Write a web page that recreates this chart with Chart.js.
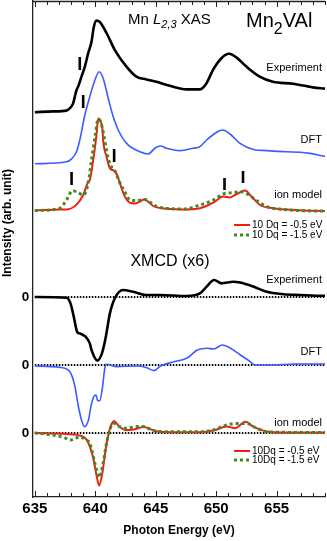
<!DOCTYPE html>
<html><head><meta charset="utf-8">
<script src="https://cdn.jsdelivr.net/npm/chart.js@4.4.1/dist/chart.umd.min.js"></script>
<style>html,body{margin:0;padding:0;background:#fff;}canvas{display:block;}</style>
</head><body>
<canvas id="c" width="327" height="541"></canvas>
<script>
// ---- data (photon energy in eV, intensity in arb. units incl. vertical offsets) ----
const xTicks = [635, 640, 645, 650, 655];
const zeroLevels = [50, 33, 16];   // XMCD baselines: Experiment, DFT, ion model

const xasExpE = [635,636.5,637.6,637.9,638.17,638.31,638.45,638.58,638.86,639.14,639.41,639.69,639.88,640.1,640.37,640.93,641.61,642.58,643.4,644.23,645.06,646.16,647.54,648.64,649.19,649.74,650.43,651.06,651.67,652.5,653.6,654.69,656.35,658,659];
const xasExpI = [96.2,96.4,96.6,97.2,98.4,100.1,101.75,102.6,105.1,107.6,110.9,113.8,117.5,119.1,118.8,116,111.8,107.6,105.1,104.4,103.8,102.8,101.9,101.9,103.4,106.8,109.7,110.8,109.9,107.6,105.1,103.8,103.3,102.4,102.1];

const xasDftE = [635,637.62,638.06,638.45,638.72,639.14,639.55,639.97,640.32,640.65,641.07,641.48,641.9,642.59,643.69,644.38,644.93,645.4,645.9,647.0,648.1,648.66,649.21,650.04,650.54,651.14,651.97,653.07,654.18,655.84,656.94,657.77,658.87,659];
const xasDftI = [83.3,83.8,84.6,86.3,89.25,95.5,100.1,104.25,106.3,104.7,99.7,95.1,91.75,88.4,86.3,85.75,87.2,87.75,87.2,86.6,87.2,87.6,89.25,91.2,91.75,90.75,88.4,86.9,86.6,86.3,86.2,85.9,85.25,85.2];

const xasIonAE = [635,637.07,637.62,638.45,639.0,639.41,639.55,639.83,640.1,640.24,640.37,640.6,640.65,640.93,641.2,641.54,641.81,642.04,642.45,642.86,643.28,643.83,644.02,644.35,644.79,645.35,647.28,648.66,649.76,650.59,651.14,651.69,652.38,652.93,653.62,654.73,656.38,658.87,659];
const xasIonAI = [71.6,71.9,71.9,73.1,75.5,78.75,79.25,84.25,90.5,94.6,94.25,91.75,89.25,85.1,82.2,81.6,80.5,78.4,75.1,73.6,73.4,74.1,74.4,73.9,72.75,72.25,71.9,72.2,73.6,75.1,74.9,75.75,76.6,75.1,73.0,72.2,71.75,71.5,71.5];

const xasIonBE = [635,637.07,637.62,638.13,638.59,639.0,639.41,639.69,640.0,640.24,640.45,640.7,641.0,641.3,641.6,642.0,642.45,642.86,643.3,643.8,644.1,644.5,645.0,646,647.3,648.66,649.76,650.59,651.42,651.97,652.38,653.07,654.18,655.5,658.9,659];
const xasIonBI = [71.6,72.2,74.25,76.6,76.1,75.5,78.4,84.25,90.5,94.5,93.75,90.5,85.5,82.75,81.75,78.75,76.25,74.25,74.1,74.25,74.4,73.75,72.75,72.1,72.0,73.0,74.25,75.75,76.1,76.3,76.1,74.7,72.6,71.9,71.5,71.5];

const mcdExpE = [635,637.62,637.95,638.22,638.5,638.7,638.99,639.2,639.55,639.69,640.18,640.55,640.82,640.97,641.21,641.62,642.3,643.13,644.23,645.35,647.55,648.66,649.21,649.82,650.45,651.42,651.97,653.07,654.18,655.56,656.94,658.87,659];
const mcdExpI = [50,49.8,48.4,45.1,41.3,40.9,40.5,40.1,38.4,36.75,34.1,35.9,39.25,41.75,45.9,49.7,51.75,51.3,50.5,50.5,50.25,50.9,52.6,54.25,53.4,53.8,53.6,52.6,51.3,50.7,50.5,50.3,50.3];

const mcdDftE = [635,637.07,637.9,638.31,638.58,638.86,639.11,639.44,639.64,639.86,640.06,640.2,640.37,640.6,640.79,640.93,641.76,643.46,644.2,644.85,645.4,646.5,647.6,648.43,649.26,649.8,650.5,651.19,652.0,652.7,653.2,654.58,656.5,658.9,659];
const mcdDftI = [32.75,32.4,31.3,27.75,23,19.25,17.6,19.25,22.6,25,25.5,24.1,24.1,27.5,32.25,33.2,32.6,32.75,32.4,31.6,32.75,33.8,34.75,36.75,37.2,37,38,37.2,35.5,34.1,33,33,33.25,33.25,33.25];

const mcdIonAE = [635,637.62,638.86,639.27,639.55,639.83,640.1,640.32,640.6,640.85,641.1,641.35,641.55,641.9,642.5,643.2,644.0,644.6,645.3,646.6,648.66,649.76,650.87,651.55,652.43,653.07,653.9,654.73,658.87,659];
const mcdIonAI = [16,15.75,15.25,14.4,12.6,9.75,5.5,2.9,6.25,11.75,15.75,18.25,19,17.9,16.75,16.9,17.5,16.9,16.3,16.2,16.2,16.6,17.6,17.2,18.8,17.6,16.6,16.2,16.1,16.1];

const mcdIonBE = [635,636.24,637.4,637.95,638.3,638.72,639.27,639.55,639.97,640.32,640.65,640.93,641.2,641.5,642.0,642.6,643.4,643.95,644.8,645.9,648.66,649.76,650.87,651.7,652.5,653.35,654.18,658.87,659];
const mcdIonBI = [16,15.6,14.9,14.25,14.6,15,14.25,13.4,8.4,4.9,8.4,13.4,16.75,18.4,17.6,17.2,17.6,17.6,16.6,16.3,16.3,16.75,18,18.4,18.4,17.2,16.3,16.1,16.1];

// feature marker bars: energy, lower, upper
const markE  = [638.72, 639.0, 641.56, 638.04, 650.69, 652.22];
const markLo = [106.75, 97.25, 83.75, 78.0, 76.75, 78.5];
const markHi = [110.0, 100.5, 87.0, 81.25, 79.75, 81.5];

// ---- build ----
const pts = (E, I) => E.map((e, i) => ({x: e, y: I[i]}));
const markPts = [];
markE.forEach((e, i) => { markPts.push({x: e, y: markLo[i]}, {x: e, y: markHi[i]}, {x: e, y: null}); });

const RED = '#f41c12', GREEN = '#3f8a22', BLUE = '#3c5cff', BLACK = '#000';
const curve = (data, color, w, dash) => ({
  data, borderColor: color, borderWidth: w, borderDash: dash || [],
  pointRadius: 0, fill: false, cubicInterpolationMode: 'monotone', borderCapStyle: 'butt'
});

const datasets = [
  curve(pts(xasIonBE, xasIonBI), GREEN, 3, [3, 3]),
  curve(pts(mcdIonBE, mcdIonBI), GREEN, 3, [3, 3]),
  curve(pts(xasIonAE, xasIonAI), RED, 2),
  curve(pts(mcdIonAE, mcdIonAI), RED, 2),
  curve(pts(xasDftE, xasDftI), BLUE, 1.6),
  curve(pts(mcdDftE, mcdDftI), BLUE, 1.6),
  curve(pts(xasExpE, xasExpI), BLACK, 2.6),
  curve(pts(mcdExpE, mcdExpI), BLACK, 2.6),
  {data: markPts, borderColor: BLACK, borderWidth: 2.6, pointRadius: 0, spanGaps: false, tension: 0},
  ...zeroLevels.map(z => ({data: [{x: 635, y: z}, {x: 659, y: z}], borderColor: BLACK, borderWidth: 2,
      borderDash: [1.5, 1.5], pointRadius: 0, tension: 0}))
];

const FONT = '"Liberation Sans", Arial, Helvetica, sans-serif';

const deco = {
  id: 'deco',
  afterDatasetsDraw(chart) {
    const ctx = chart.ctx, a = chart.chartArea, xs = chart.scales.x, ys = chart.scales.y;
    ctx.save();
    // frame top line
    ctx.strokeStyle = '#222'; ctx.lineWidth = 1.3;
    ctx.beginPath(); ctx.moveTo(a.left, a.top + 0.5); ctx.lineTo(a.right, a.top + 0.5); ctx.stroke();
    // inward ticks top & bottom
    ctx.lineWidth = 1;
    for (let e = 635; e <= 659; e++) {
      const px = Math.round(xs.getPixelForValue(e)) + 0.5;
      const L = (e % 5 === 0) ? 6 : 4;
      ctx.beginPath();
      ctx.moveTo(px, a.bottom); ctx.lineTo(px, a.bottom - L);
      ctx.moveTo(px, a.top); ctx.lineTo(px, a.top + L);
      ctx.stroke();
    }
    ctx.fillStyle = '#000';
    // zero labels
    ctx.font = 'bold 13.5px ' + FONT; ctx.textAlign = 'center'; ctx.textBaseline = 'middle';
    zeroLevels.forEach(z => ctx.fillText('0', 25.5, ys.getPixelForValue(z)));
    // y title
    ctx.save(); ctx.translate(8, 223); ctx.rotate(-Math.PI / 2);
    ctx.font = 'bold 12px ' + FONT; ctx.fillText('Intensity (arb. unit)', 0, 0); ctx.restore();
    // header
    ctx.textAlign = 'left'; ctx.textBaseline = 'alphabetic';
    let x = 128;
    ctx.font = '15px ' + FONT; ctx.fillText('Mn ', x, 24); x += ctx.measureText('Mn ').width;
    ctx.font = 'italic 15px ' + FONT; ctx.fillText('L', x, 24); x += ctx.measureText('L').width;
    ctx.font = 'italic 11px ' + FONT; ctx.fillText('2,3', x, 28); x += ctx.measureText('2,3').width;
    ctx.font = '15px ' + FONT; ctx.fillText(' XAS', x, 24);
    x = 246;
    ctx.font = '20px ' + FONT; ctx.fillText('Mn', x, 27); x += ctx.measureText('Mn').width;
    ctx.font = '16px ' + FONT; ctx.fillText('2', x, 34); x += ctx.measureText('2').width;
    ctx.font = '20px ' + FONT; ctx.fillText('VAl', x, 27);
    ctx.font = '16px ' + FONT; ctx.textAlign = 'center'; ctx.textBaseline = 'middle';
    ctx.fillText('XMCD (x6)', 170, 262);
    // curve labels
    ctx.font = '11px ' + FONT; ctx.textAlign = 'right';
    [['Experiment', 68], ['DFT', 140], ['ion model', 195], ['Experiment', 280], ['DFT', 352], ['ion model', 423]]
      .forEach(([t, y]) => ctx.fillText(t, 322, y));
    // legends
    ctx.textAlign = 'left'; ctx.font = '10px ' + FONT;
    const leg = (y, txt, color, dash, w) => {
      ctx.save(); ctx.strokeStyle = color; ctx.lineWidth = w; ctx.setLineDash(dash);
      ctx.beginPath(); ctx.moveTo(234, y); ctx.lineTo(250, y); ctx.stroke(); ctx.restore();
      ctx.fillText(txt, 252, y);
    };
    leg(225, '10 Dq = -0.5 eV', RED, [], 2);
    leg(235, '10 Dq = -1.5 eV', GREEN, [3, 3], 3);
    leg(451, '10Dq = -0.5 eV', RED, [], 2);
    leg(460, '10Dq = -1.5 eV', GREEN, [3, 3], 3);
    ctx.restore();
  }
};

new Chart(document.getElementById('c'), {
  type: 'line',
  data: {datasets},
  options: {
    responsive: false, animation: false, devicePixelRatio: 1,
    layout: {padding: {top: 1, right: 2, left: 0, bottom: 0}},
    plugins: {legend: {display: false}, tooltip: {enabled: false}},
    scales: {
      x: {
        type: 'linear', min: 634.85, max: 659,
        afterBuildTicks: s => { s.ticks = xTicks.map(v => ({value: v})); },
        afterFit: s => { s.height = 44; },
        grid: {display: false, drawTicks: false},
        border: {display: true, color: '#222', width: 1.3},
        ticks: {padding: 3, color: '#000', font: {family: FONT, size: 15, weight: 'bold'}, maxRotation: 0},
        title: {display: true, text: 'Photon Energy (eV)', color: '#000',
                font: {family: FONT, size: 12, weight: 'bold'}, padding: {top: 0, bottom: 3}}
      },
      y: {
        type: 'linear', min: 0, max: 124,
        afterFit: s => { s.width = 33; },
        grid: {display: false, drawTicks: false},
        border: {display: true, color: '#222', width: 1.3},
        ticks: {display: false}
      }
    }
  },
  plugins: [deco]
});
</script>
</body></html>
